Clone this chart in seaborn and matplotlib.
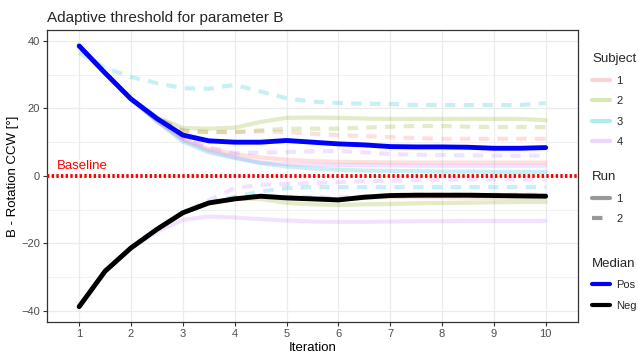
import matplotlib
matplotlib.use("Agg")
import matplotlib.pyplot as plt
from matplotlib.lines import Line2D
import seaborn as sns
import pandas as pd

ITERATION = [1, 1.5, 2, 2.5, 3, 3.5, 4, 4.5, 5, 5.5, 6, 6.5, 7, 7.5, 8, 8.5, 9, 9.5, 10]

# positive thresholds per subject / run
S1_R1_POS = [38.5, 30.5, 22.8, 16.4, 11, 8, 6.5, 5.5, 4.8, 4.4, 4.2, 4.1, 4, 4, 4, 4, 4, 4, 4]
S1_R2_POS = [38.5, 30.5, 22.8, 17.2, 13.4, 13, 13, 13.2, 13, 12.5, 12.1, 11.8, 11.5, 11.2, 11, 11, 11, 11, 11]
S2_R1_POS = [38.5, 30.5, 22.8, 17.4, 14.2, 14, 14.3, 16, 17.2, 17.3, 17.2, 17, 16.9, 16.9, 16.9, 16.9, 16.9, 16.9, 16.5]
S2_R2_POS = [38.5, 30.5, 22.8, 17.2, 13.4, 13, 13, 13.5, 14, 14, 14, 14.3, 14.6, 14.8, 14.8, 14.6, 14.5, 14.5, 14.5]
S3_R1_POS = [38.5, 30.5, 22.8, 16.2, 10.2, 7, 5.3, 3.8, 2.8, 2.2, 1.8, 1.6, 1.5, 1.4, 1.3, 1.3, 1.2, 1.2, 1.2]
S3_R2_POS = [36.5, 32, 29.3, 27.5, 26, 25.8, 27, 25, 23, 22, 21.6, 21.4, 21.3, 21, 21, 21, 21, 21, 21.6]
S4_R1_POS = [38.5, 30.5, 22.8, 16.3, 10.6, 7.5, 5.5, 4, 3.5, 3.3, 3.2, 3.2, 3.1, 3, 3, 3, 3, 3, 3]
S4_R2_POS = [38.5, 30.5, 22.8, 16.6, 11.5, 8.5, 6.8, 6.9, 7.1, 7.3, 7.4, 7, 6.5, 6.3, 6.2, 6.1, 6, 6, 6]

# negative thresholds per subject / run
S1_R1_NEG = [-38.7, -28.2, -21.3, -15.8, -10.9, -8, -6.8, -6.2, -6.6, -6.8, -7, -6.5, -6.2, -6.2, -6.3, -6.4, -6.5, -6.5, -6.5]
S1_R2_NEG = [-38.7, -28.2, -21.3, -15.8, -10.9, -8, -6.5, -5.8, -6.2, -6.3, -6.4, -6, -5.6, -5.5, -5.5, -5.5, -5.5, -5.5, -5.5]
S2_R1_NEG = [-38.7, -28.2, -21.3, -15.8, -10.9, -8, -6.8, -6.8, -8, -8.4, -8.6, -8.4, -8.3, -8.1, -8, -7.9, -7.8, -7.7, -7.7]
S2_R2_NEG = [-38.7, -28.2, -21.3, -15.8, -10.9, -8, -6.6, -6, -6.4, -6.7, -7, -6.4, -6, -5.9, -5.9, -5.9, -6, -6, -6]
S3_R1_NEG = [-38.7, -28.2, -21.3, -15.8, -10.9, -8, -6.6, -5.9, -6.3, -6.5, -6.9, -6.2, -5.8, -5.7, -5.7, -5.7, -5.8, -5.8, -5.8]
S3_R2_NEG = [-38.7, -28.2, -21.3, -15.8, -10.9, -8, -6.2, -4.6, -3.6, -3.3, -3.3, -3.3, -3.3, -3.3, -3.3, -3.3, -3.3, -3.3, -3.3]
S4_R1_NEG = [-38.7, -28.4, -21.5, -16.5, -13, -12, -12.3, -12.8, -13.2, -13.5, -13.6, -13.6, -13.5, -13.4, -13.4, -13.3, -13.3, -13.3, -13.3]
S4_R2_NEG = [-38.7, -28.2, -21.3, -15.8, -10.9, -7.2, -3.6, -2.6, -2.4, -2.1, -1.8, -1.6, -1.4, -1.2, -1.1, -1, -1, -1, -1]

# medians across subjects
MEDIAN_POS = [38.5, 30.5, 22.8, 17, 12.1, 10.4, 10, 10, 10.5, 10, 9.5, 9.2, 8.7, 8.6, 8.6, 8.5, 8.2, 8.2, 8.4]
MEDIAN_NEG = [-38.7, -28.2, -21.3, -15.8, -10.9, -8, -6.8, -6, -6.5, -6.8, -7.1, -6.3, -5.8, -5.7, -5.7, -5.7, -5.8, -5.9, -6]

SUBJECTS = ["1", "2", "3", "4"]
RUNS = ["1", "2"]
MEDIAN_LABELS = ["Pos", "Neg"]

SUBJECT_COLORS = {"1": "#F8766D", "2": "#7CAE00", "3": "#00BFC4", "4": "#C77CFF"}
MEDIAN_COLORS = {"Pos": "#0000FF", "Neg": "#000000"}
RUN_DASHES = {"1": "", "2": (2.5, 2)}

lines = [
    ("1", "1", "pos", S1_R1_POS), ("1", "2", "pos", S1_R2_POS),
    ("2", "1", "pos", S2_R1_POS), ("2", "2", "pos", S2_R2_POS),
    ("3", "1", "pos", S3_R1_POS), ("3", "2", "pos", S3_R2_POS),
    ("4", "1", "pos", S4_R1_POS), ("4", "2", "pos", S4_R2_POS),
    ("1", "1", "neg", S1_R1_NEG), ("1", "2", "neg", S1_R2_NEG),
    ("2", "1", "neg", S2_R1_NEG), ("2", "2", "neg", S2_R2_NEG),
    ("3", "1", "neg", S3_R1_NEG), ("3", "2", "neg", S3_R2_NEG),
    ("4", "1", "neg", S4_R1_NEG), ("4", "2", "neg", S4_R2_NEG),
]

rows = []
for subj, run, sign, vals in lines:
    for it, v in zip(ITERATION, vals):
        rows.append({"iteration": it, "threshold": v, "subject": subj,
                     "run": run, "line": f"{subj}-{run}-{sign}"})
df = pd.DataFrame(rows)

med_rows = []
for label, vals in [("Pos", MEDIAN_POS), ("Neg", MEDIAN_NEG)]:
    for it, v in zip(ITERATION, vals):
        med_rows.append({"iteration": it, "threshold": v, "median": label})
df_med = pd.DataFrame(med_rows)

sns.set_theme(style="white")
plt.rcParams["font.family"] = ["Liberation Sans", "DejaVu Sans"]

fig = plt.figure(figsize=(6.38, 3.58), dpi=100)
ax = fig.add_axes([0.0737, 0.101, 0.832, 0.815])

sns.lineplot(data=df, x="iteration", y="threshold", hue="subject", style="run",
             units="line", estimator=None, palette=SUBJECT_COLORS,
             dashes=RUN_DASHES, alpha=0.22, linewidth=3, legend=False, ax=ax)
sns.lineplot(data=df_med, x="iteration", y="threshold", hue="median",
             estimator=None, palette=MEDIAN_COLORS, linewidth=3.5,
             legend=False, ax=ax)

ax.axhline(0, color="#FF0000", linewidth=2.8, linestyle=(0, (0.6, 0.6)), zorder=5)
ax.text(0.57, 1.2, "Baseline", color="#FF0000", fontsize=9.5, va="bottom", ha="left")

ax.set_xlim(0.38, 10.62)
ax.set_ylim(-43.2, 43.2)
ax.set_xticks(range(1, 11))
ax.set_yticks([-40, -20, 0, 20, 40])
ax.set_yticks([-30, -10, 10, 30], minor=True)
ax.grid(True, which="major", color="#EBEBEB", linewidth=0.9)
ax.grid(True, which="minor", axis="y", color="#EBEBEB", linewidth=0.5)
ax.set_axisbelow(True)
for s in ax.spines.values():
    s.set_color("#333333")
    s.set_linewidth(0.9)
ax.tick_params(axis="both", which="major", length=3, width=0.8, color="#333333",
               labelcolor="#4D4D4D", labelsize=8, bottom=True, left=True, pad=2)
ax.tick_params(axis="y", which="minor", length=0)

ax.set_xlabel("Iteration", fontsize=9.5, color="black", labelpad=2)
ax.set_ylabel("B - Rotation CCW [°]", fontsize=9.5, color="black", labelpad=1.5)
ax.set_title("Adaptive threshold for parameter B", fontsize=11, loc="left", pad=6,
             x=0.0)

# legends on the right
subj_handles = [Line2D([], [], color=SUBJECT_COLORS[s], alpha=0.3, lw=3) for s in SUBJECTS]
run_handles = [Line2D([], [], color="#999999", lw=3),
               Line2D([], [], color="#999999", lw=3, linestyle=(0, (2.5, 2)))]
med_handles = [Line2D([], [], color=MEDIAN_COLORS[m], lw=3) for m in MEDIAN_LABELS]

common = dict(loc="upper left", frameon=False, fontsize=8, title_fontsize=9.5,
              alignment="left", handlelength=1.6, handletextpad=0.6,
              labelspacing=0.95, borderaxespad=0, borderpad=0)
fig.legend(subj_handles, SUBJECTS, title="Subject",
           bbox_to_anchor=(0.928, 0.852), **common)
fig.legend(run_handles, RUNS, title="Run",
           bbox_to_anchor=(0.928, 0.522), **common)
fig.legend(med_handles, MEDIAN_LABELS, title="Median",
           bbox_to_anchor=(0.928, 0.28), **common)

fig.savefig("out.png", dpi=100)
